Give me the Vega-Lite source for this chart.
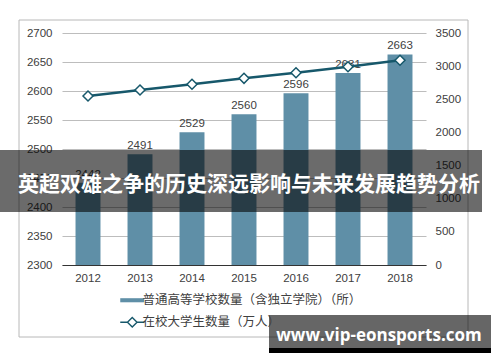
{
  "$schema": "https://vega.github.io/schema/vega-lite/v6.json",
  "width": 364,
  "height": 232,
  "autosize": "none",
  "padding": {"left": 62, "top": 33, "right": 74, "bottom": 97},
  "background": "white",
  "config": {
    "view": {"stroke": null},
    "axis": {"labelFont": "Liberation Sans", "labelFontSize": 11.5, "labelColor": "#404040", "labelOverlap": false}
  },
  "datasets": {
    "main": [
      {"year": "2012", "schools": 2442, "students": 2550},
      {"year": "2013", "schools": 2491, "students": 2640},
      {"year": "2014", "schools": 2529, "students": 2726},
      {"year": "2015", "schools": 2560, "students": 2816},
      {"year": "2016", "schools": 2596, "students": 2901},
      {"year": "2017", "schools": 2631, "students": 2991},
      {"year": "2018", "schools": 2663, "students": 3088}
    ],
    "banner": [{"t": "英超双雄之争的历史深远影响与未来发展趋势分析"}],
    "mark": [{"t": "www.vip-eonsports.com"}]
  },
  "layer": [
    {
      "data": {"values": [{}]},
      "mark": {"type": "rect", "filled": false, "stroke": "#b8b8b8", "strokeWidth": 1},
      "encoding": {
        "x": {"value": -43}, "x2": {"value": 406},
        "y": {"value": -13}, "y2": {"value": 304}
      }
    },
    {
      "data": {"name": "main"},
      "encoding": {
        "x": {
          "field": "year", "type": "ordinal",
          "scale": {"paddingInner": 0.52, "paddingOuter": 0.26},
          "axis": {"title": null, "labelAngle": 0, "ticks": false, "domain": true, "domainColor": "#333333", "labelPadding": 7, "grid": false}
        },
        "y": {
          "field": "schools", "type": "quantitative",
          "scale": {"domain": [2300, 2700], "zero": false, "nice": false},
          "axis": {"title": null, "orient": "left", "format": "d", "values": [2300, 2350, 2400, 2450, 2500, 2550, 2600, 2650, 2700], "grid": true, "gridColor": "#bdbdbd", "domain": false, "ticks": false, "labelPadding": 10}
        }
      },
      "layer": [
        {
          "mark": {"type": "bar"},
          "encoding": {
            "y2": {"datum": 2300},
            "color": {
              "datum": "a", "type": "nominal",
              "scale": {"domain": ["a", "b"], "range": ["#5f8fa7", "#17586b"]},
              "legend": {
                "orient": "none", "legendX": 64, "legendY": 261, "title": null, "direction": "vertical",
                "labelExpr": "datum.value === 'a' ? '普通高等学校数量（含独立学院）（所）' : '在校大学生数量（万人）'",
                "labelFont": "Noto Sans CJK SC", "labelFontSize": 12.5, "labelColor": "#404040", "labelLimit": 400,
                "symbolSize": 576, "labelOffset": 4, "rowPadding": 7,
                "encode": {
                  "symbols": {
                    "update": {
                      "shape": {"signal": "datum.value === 'a' ? 'M-1,-0.17H1V0.17H-1Z' : 'M-1,0H-0.4M0.4,0H1M0,-0.4L0.4,0L0,0.4L-0.4,0Z'"},
                      "fill": {"signal": "datum.value === 'a' ? '#5f8fa7' : '#ffffff'"},
                      "fillOpacity": {"signal": "datum.value === 'a' ? 1 : 0"},
                      "stroke": {"signal": "datum.value === 'a' ? '#5f8fa7' : '#17586b'"},
                      "strokeWidth": {"signal": "datum.value === 'a' ? 0 : 1.4"},
                      "opacity": {"value": 1}
                    }
                  }
                }
              }
            }
          }
        },
        {
          "mark": {"type": "text", "baseline": "bottom", "dy": -3, "fontSize": 11.5, "font": "Liberation Sans", "color": "#404040"},
          "encoding": {
            "text": {"field": "schools", "type": "quantitative"}
          }
        }
      ]
    },
    {
      "data": {"name": "main"},
      "encoding": {
        "x": {
          "field": "year", "type": "ordinal",
          "scale": {"paddingInner": 0.52, "paddingOuter": 0.26},
          "axis": {"title": null, "labelAngle": 0, "ticks": false, "domain": true, "domainColor": "#333333", "labelPadding": 7, "grid": false}
        },
        "y": {
          "field": "students", "type": "quantitative",
          "scale": {"domain": [0, 3500], "nice": false},
          "axis": {"title": null, "orient": "right", "format": "d", "values": [0, 500, 1000, 1500, 2000, 2500, 3000, 3500], "grid": false, "domain": false, "ticks": false, "labelPadding": 9}
        }
      },
      "layer": [
        {
          "mark": {"type": "line", "strokeWidth": 2.5},
          "encoding": {
            "color": {"datum": "b", "type": "nominal"}
          }
        },
        {
          "mark": {"type": "point", "shape": "diamond", "filled": true, "fill": "#ffffff", "stroke": "#17586b", "strokeWidth": 1.5, "size": 100, "opacity": 1}
        }
      ]
    },
    {
      "data": {"values": [{}]},
      "mark": {"type": "rect", "fill": "#000000", "opacity": 0.58},
      "encoding": {
        "x": {"value": -62}, "x2": {"value": 420},
        "y": {"value": 117}, "y2": {"value": 179}
      }
    },
    {
      "data": {"name": "banner"},
      "mark": {"type": "text", "font": "Noto Sans CJK SC", "fontWeight": "bold", "fontSize": 21, "color": "#ffffff", "align": "center", "baseline": "middle"},
      "encoding": {
        "x": {"value": 187}, "y": {"value": 152},
        "text": {"field": "t"}
      }
    },
    {
      "data": {"values": [{}]},
      "mark": {"type": "rect", "fill": "#000000", "opacity": 0.6},
      "encoding": {
        "x": {"value": 207}, "x2": {"value": 429},
        "y": {"value": 282}, "y2": {"value": 315}
      }
    },
    {
      "data": {"values": [{}]},
      "mark": {"type": "rect", "fill": "#000000", "opacity": 1},
      "encoding": {
        "x": {"value": 207}, "x2": {"value": 429},
        "y": {"value": 315}, "y2": {"value": 320}
      }
    },
    {
      "data": {"name": "mark"},
      "mark": {"type": "text", "font": "Open Sans", "fontWeight": "bold", "fontSize": 17, "color": "#ffffff", "align": "center", "baseline": "middle"},
      "encoding": {
        "x": {"value": 317}, "y": {"value": 303},
        "text": {"field": "t"}
      }
    }
  ],
  "resolve": {"scale": {"y": "independent"}}
}
